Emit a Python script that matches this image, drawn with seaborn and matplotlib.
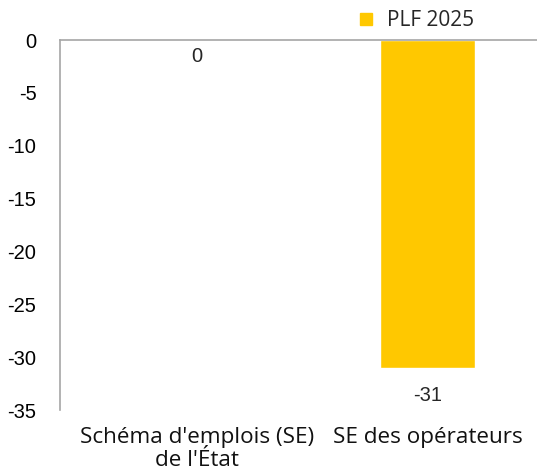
import matplotlib
matplotlib.use("Agg")
import matplotlib.pyplot as plt
import seaborn as sns
import pandas as pd
from matplotlib.lines import Line2D

categories = ["Schéma d'emplois (SE)\nde l'État", "SE des opérateurs"]
values = [0, -31]
series_name = "PLF 2025"
yticks = [0, -5, -10, -15, -20, -25, -30, -35]

sns.set_style("white")
plt.rcParams['font.family'] = ['Liberation Sans', 'DejaVu Sans']

df = pd.DataFrame({"cat": categories, "val": values})
color = "#FFC800"

fig = plt.figure(figsize=(5.37, 4.74), dpi=100)
ax = fig.add_axes([60/537, 1-410/474, 1-60/537, 370/474])
sns.barplot(data=df, x="cat", y="val", color=color, width=0.41, ax=ax, saturation=1)

ax.set_ylim(-35, 0)
ax.set_xlim(-0.594, 1.475)
ax.set_yticks(yticks)
ax.set_yticklabels([str(t) for t in yticks], fontsize=14.5, color="#000000")
ax.tick_params(axis='y', length=0, pad=17)
ax.tick_params(axis='x', length=0, pad=12)
ax.set_xticks(range(len(categories)))
ax.set_xticklabels(categories, fontsize=16.2, family=['Open Sans', 'DejaVu Sans'], color="#111111", linespacing=1.15)
for lab in ax.get_xticklabels():
    lab.set_multialignment('center')
ax.set_xlabel("")
ax.set_ylabel("")

for s in ["right", "bottom"]:
    ax.spines[s].set_visible(False)
for s in ["left", "top"]:
    ax.spines[s].set_color("#A6A6A6")
    ax.spines[s].set_linewidth(1.2)
ax.spines["top"].set_zorder(5)

for i, v in enumerate(values):
    if v == 0:
        ax.text(i, -1.6, str(v), ha='center', va='center', fontsize=14.5)
    else:
        ax.text(i, v - 2.6, str(v), ha='center', va='center', fontsize=14.5)

handle = Line2D([], [], marker='s', linestyle='none', markersize=8, color=color)
leg = fig.legend([handle], [series_name], loc='center', bbox_to_anchor=(416/537, 1-21/474),
                 frameon=False, prop={'family': ['Open Sans', 'DejaVu Sans'], 'size': 15},
                 handletextpad=0.62, handlelength=0.8, borderpad=0, borderaxespad=0)

fig.savefig("out.png", dpi=100)
